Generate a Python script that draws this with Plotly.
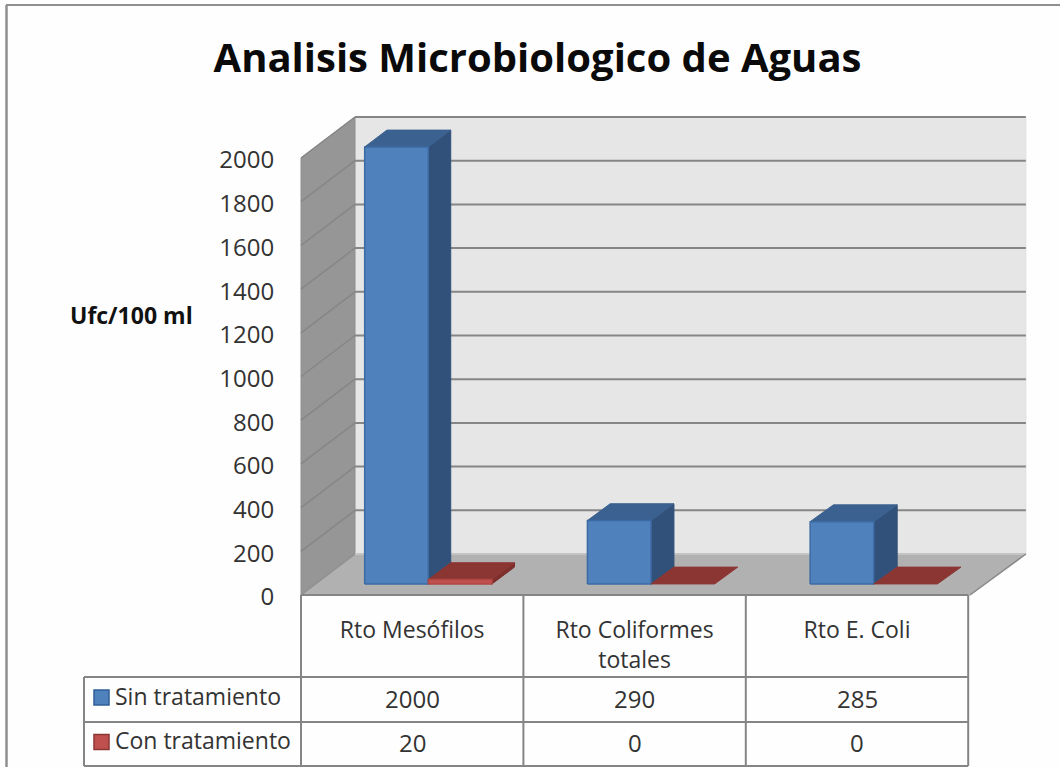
import plotly.graph_objects as go

# ---- data ----
categories = ["Rto Mesófilos", "Rto Coliformes<br>totales", "Rto E. Coli"]
series_names = ["Sin tratamiento", "Con tratamiento"]
sin_tratamiento = [2000, 290, 285]
con_tratamiento = [20, 0, 0]
y_ticks = [0, 200, 400, 600, 800, 1000, 1200, 1400, 1600, 1800, 2000]
title_text = "Analisis Microbiologico de Aguas"
y_title = "Ufc/100 ml"

# ---- canvas and pseudo-3D set-up ----
W, H = 1060, 767
X0_PX, Y0_PX = 301, 595          # front-left corner of the floor
CAT_PX = 222.4                   # width of one category
VAL_PX = 437 / 2000              # pixels per unit of value
DEPTH_X = 54 / CAT_PX            # depth offset of the whole box, data units
DEPTH_Y = 41 / VAL_PX
STRETCH = 0.0055                 # slight widening of the box towards the back
BAR_FRONT, BAR_BACK = 0.27, 0.68 # depth range of the bars
BAR_GAP, BAR_W = 0.2205, 0.2857  # within a category
Y_MAX = 2000


def xpx(p):
    return (p - X0_PX) / CAT_PX


def ypx(p):
    return (Y0_PX - p) / VAL_PX


def proj(x, v, d=0.0):
    """Oblique projection: category position, value, depth 0..1."""
    return x + d * DEPTH_X + d * x * STRETCH, v + d * DEPTH_Y


def poly(points, fill, line=None, lw=1):
    pts = [proj(*p) for p in points]
    xs = [p[0] for p in pts] + [pts[0][0]]
    ys = [p[1] for p in pts] + [pts[0][1]]
    return go.Scatter(x=xs, y=ys, mode="lines", fill="toself", fillcolor=fill,
                      line=dict(color=line or fill, width=lw),
                      hoverinfo="skip", showlegend=False)


def seg(x0, y0, x1, y1, color="#8a8a8a", width=2):
    return go.Scatter(x=[x0, x1], y=[y0, y1], mode="lines",
                      line=dict(color=color, width=width),
                      hoverinfo="skip", showlegend=False)


fig = go.Figure()
N = len(categories)

# walls and floor
fig.add_trace(poly([(0, 0, 1), (N, 0, 1), (N, Y_MAX, 1), (0, Y_MAX, 1)], "#e6e6e6", "#e0e0e0"))
fig.add_trace(poly([(0, 0, 0), (0, 0, 1), (0, Y_MAX, 1), (0, Y_MAX, 0)], "#969696", "#8f8f8f"))
fig.add_trace(poly([(0, 0, 0), (N + 0.008, 0, 0), (N, 0, 1), (0, 0, 1)], "#b1b1b1", "#b1b1b1"))

# gridlines on the walls
for t in y_ticks:
    a = proj(0, t, 0)
    b = proj(0, t, 1)
    c = proj(N, t, 1)
    if t > 0:
        fig.add_trace(seg(a[0], a[1], b[0], b[1], "#868686", 1.5))
        fig.add_trace(seg(b[0], b[1], c[0], c[1], "#868686", 2))
    else:
        fig.add_trace(seg(a[0], a[1], b[0], b[1], "#8f8f8f", 1.5))
        fig.add_trace(seg(b[0], b[1], c[0], c[1], "#c4c4c4", 2))
a, b = proj(N + 0.008, 0, 0), proj(N, 0, 1)
fig.add_trace(seg(a[0], a[1], b[0], b[1], "#8a8a8a", 1.5))


# bars
def bar(x0, v, front, side, top, edge):
    x1 = x0 + BAR_W
    if v > 0:
        fig.add_trace(poly([(x1, 0, BAR_FRONT), (x1, 0, BAR_BACK), (x1, v, BAR_BACK), (x1, v, BAR_FRONT)], side))
    fig.add_trace(poly([(x0, v, BAR_FRONT), (x1, v, BAR_FRONT), (x1, v, BAR_BACK), (x0, v, BAR_BACK)], top))
    if v > 0:
        fig.add_trace(poly([(x0, 0, BAR_FRONT), (x1, 0, BAR_FRONT), (x1, v, BAR_FRONT), (x0, v, BAR_FRONT)],
                           front, edge, 1.5))


for i in range(N):
    x_blue = i + BAR_GAP
    bar(x_blue, sin_tratamiento[i], "#4f81bd", "#31507a", "#3a618f", "#3c6aa3")
for i in range(N):
    x_red = i + BAR_GAP + BAR_W
    bar(x_red, con_tratamiento[i], "#c0504d", "#7d2f2d", "#8c3634", "#b04744")

# data table grid
LINE = "#858585"
for k in range(N + 1):
    fig.add_trace(seg(k, 0, k, ypx(766), LINE, 2))
y_row0, y_row1, y_row2 = ypx(677), ypx(722), ypx(766)
for yy in (y_row0, y_row1, y_row2):
    fig.add_trace(seg(xpx(84), yy, N, yy, LINE, 2))
fig.add_trace(seg(xpx(84), y_row0, xpx(84), y_row2, LINE, 2))
fig.add_trace(seg(0, 0, N, 0, LINE, 2))

# outer chart border
fig.add_trace(seg(xpx(6), ypx(5), xpx(W), ypx(5), "#8f8f8f", 2))
fig.add_trace(seg(xpx(6.5), ypx(5), xpx(6.5), ypx(H), "#8f8f8f", 2.5))

# legend keys in the table
fig.add_trace(go.Scatter(x=[xpx(101.5)], y=[ypx(697.5)], mode="markers", hoverinfo="skip", showlegend=False,
                         marker=dict(symbol="square", size=15, color="#4f81bd", line=dict(color="#2f5f96", width=1.5))))
fig.add_trace(go.Scatter(x=[xpx(101.5)], y=[ypx(742)], mode="markers", hoverinfo="skip", showlegend=False,
                         marker=dict(symbol="square", size=15, color="#c0504d", line=dict(color="#8c3634", width=1.5))))

FONT = "Open Sans"
TXT = "#333333"
ann = []
rows = [(sin_tratamiento, 698), (con_tratamiento, 742)]
for vals, py in rows:
    for i, v in enumerate(vals):
        ann.append(dict(x=i + 0.5, y=ypx(py), xref="x", yref="y", text=str(v), showarrow=False,
                        font=dict(family=FONT, size=24, color=TXT)))
for name, py in zip(series_names, (696, 740)):
    ann.append(dict(x=xpx(113), y=ypx(py), xref="x", yref="y", text=name, showarrow=False, xanchor="left",
                    font=dict(family=FONT, size=23, color=TXT)))
ann.append(dict(x=xpx(131), y=ypx(315), xref="x", yref="y", text="<b>%s</b>" % y_title, showarrow=False,
                font=dict(family=FONT, size=23, color="#111111")))

fig.update_layout(
    width=W, height=H, autosize=False,
    margin=dict(l=0, r=0, t=0, b=0),
    paper_bgcolor="#fefefe", plot_bgcolor="#fefefe",
    showlegend=False,
    title=dict(text="<b>%s</b>" % title_text, x=537.5 / W, xanchor="center", y=1 - 58 / H, yanchor="middle",
               font=dict(family=FONT, size=40, color="#0a0a0a")),
    xaxis=dict(range=[xpx(0), xpx(W)], showgrid=False, zeroline=False, showline=False,
               anchor="free", position=1 - Y0_PX / H,
               tickmode="array", tickvals=[i + 0.5 for i in range(N)], ticktext=categories,
               ticks="outside", ticklen=14, tickcolor="rgba(0,0,0,0)",
               tickfont=dict(family=FONT, size=23, color=TXT)),
    yaxis=dict(range=[ypx(H), ypx(0)], showgrid=False, zeroline=False, showline=False,
               anchor="free", position=X0_PX / W,
               tickmode="array", tickvals=y_ticks, ticklabelshift=2,
               ticks="outside", ticklen=22, tickcolor="rgba(0,0,0,0)",
               tickfont=dict(family=FONT, size=24, color=TXT)),
    annotations=ann,
)

fig.write_html("out.html", config=dict(displayModeBar=False),
               post_script="document.body.style.margin='0';document.documentElement.style.overflow='hidden';")
